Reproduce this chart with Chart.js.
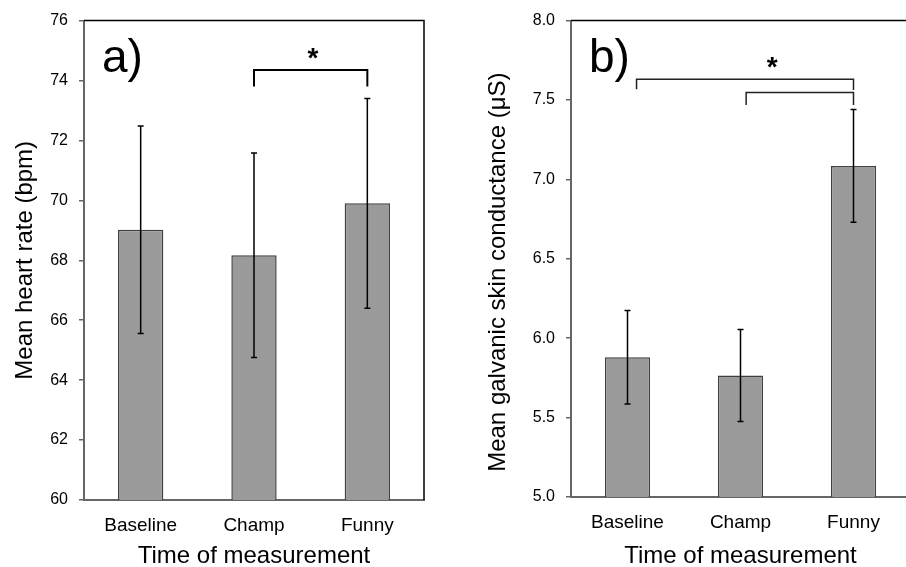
<!DOCTYPE html>
<html><head><meta charset="utf-8">
<script src="https://cdn.jsdelivr.net/npm/chart.js@4"></script>
<style>
html,body{margin:0;padding:0;width:906px;height:567px;overflow:hidden;background:#fff;}
#ca{position:absolute;left:0;top:0;}
#cb{position:absolute;left:453px;top:0;}
</style></head><body>
<canvas id="ca" width="453" height="567"></canvas>
<canvas id="cb" width="457" height="567"></canvas>
<script>
const categories = ['Baseline', 'Champ', 'Funny'];
const heartRateMean = [69.02, 68.17, 69.9];
const heartRateErr = [3.46, 3.41, 3.5];
const gscMean = [5.88, 5.765, 7.085];
const gscErr = [0.294, 0.29, 0.355];
const heartRateTicks = [60, 62, 64, 66, 68, 70, 72, 74, 76];
const gscTicks = [5.0, 5.5, 6.0, 6.5, 7.0, 7.5, 8.0];
const heartRateBrackets = [{from: 1, to: 2, y: 74.35, legFrom: 73.8, legTo: 73.8}];
const gscBrackets = [
  {from: 0.08, to: 2, y: 7.63, legFrom: 7.567, legTo: 7.5625},
  {from: 1.05, to: 2, y: 7.548, legFrom: 7.469, legTo: 7.469}
];
const heartRateStars = [{x: 1.52, y: 74.45}];
const gscStars = [{x: 1.28, y: 7.648}];

Chart.defaults.font.family = '"Liberation Sans", Arial, sans-serif';
Chart.defaults.color = '#000';

const annot = {
  id: 'annot',
  afterDatasetsDraw(chart, args, o) {
    const {ctx, chartArea: a, scales: {x, y}} = chart;
    const x0 = x.getPixelForValue(0);
    const step = x.getPixelForValue(1) - x0;
    const px = v => x0 + v * step;
    ctx.save();
    ctx.strokeStyle = '#000';
    ctx.lineWidth = 1.5;
    o.mean.forEach((m, i) => {
      const cx = x.getPixelForValue(i);
      const t = y.getPixelForValue(m + o.err[i]);
      const b = y.getPixelForValue(m - o.err[i]);
      ctx.beginPath();
      ctx.moveTo(cx, t); ctx.lineTo(cx, b);
      ctx.moveTo(cx - 3, t); ctx.lineTo(cx + 3, t);
      ctx.moveTo(cx - 3, b); ctx.lineTo(cx + 3, b);
      ctx.stroke();
    });
    ctx.lineWidth = o.bracketWidth;
    ctx.strokeStyle = o.bracketColor;
    o.brackets.forEach(br => {
      const xa = px(br.from), xb = px(br.to), yy = y.getPixelForValue(br.y);
      ctx.beginPath();
      ctx.moveTo(xa, y.getPixelForValue(br.legFrom));
      ctx.lineTo(xa, yy);
      ctx.lineTo(xb, yy);
      ctx.lineTo(xb, y.getPixelForValue(br.legTo));
      ctx.stroke();
    });
    ctx.fillStyle = '#000';
    ctx.font = 'bold 28px "Liberation Sans", Arial';
    ctx.textAlign = 'center';
    ctx.textBaseline = 'alphabetic';
    o.stars.forEach(s => ctx.fillText('*', px(s.x), y.getPixelForValue(s.y)));
    ctx.font = '46px "Liberation Sans", Arial';
    ctx.textAlign = 'left';
    ctx.fillText(o.label, a.left + 18, a.top + 51);
    ctx.strokeStyle = '#000';
    ctx.lineWidth = 1.5;
    ctx.beginPath();
    ctx.moveTo(a.left, a.top);
    ctx.lineTo(a.right, a.top);
    ctx.lineTo(a.right, a.bottom);
    ctx.stroke();
    ctx.restore();
  }
};

function makeChart(id, o) {
  return new Chart(document.getElementById(id), {
    type: 'bar',
    data: {
      labels: categories,
      datasets: [{
        data: o.mean,
        backgroundColor: '#9a9a9a',
        borderColor: '#404040',
        borderWidth: 1.5,
        barPercentage: 0.4,
        categoryPercentage: 1
      }]
    },
    options: {
      responsive: false,
      animation: false,
      devicePixelRatio: 1,
      layout: {padding: {left: 0, right: o.padRight, top: 17, bottom: 0}},
      plugins: {
        legend: {display: false},
        tooltip: {enabled: false},
        annot: {
          mean: o.mean, err: o.err, brackets: o.brackets, stars: o.stars,
          label: o.label, bracketWidth: o.bracketWidth, bracketColor: o.bracketColor
        }
      },
      scales: {
        x: {
          grid: {display: false},
          border: {display: true, color: '#666', width: 2},
          ticks: {color: '#000', font: {size: 19, lineHeight: 1}, padding: o.xTickPad},
          title: {display: true, text: 'Time of measurement', color: '#000',
                  font: {size: 24, lineHeight: 1}, padding: {top: 0, bottom: -1}},
          afterFit(s) { s.height = o.xAxisHeight; }
        },
        y: {
          min: o.ticks[0],
          max: o.ticks[o.ticks.length - 1],
          afterBuildTicks(s) { s.ticks = o.ticks.map(v => ({value: v})); },
          ticks: {color: '#000', font: {size: 16}, padding: 11, callback: o.fmt},
          grid: {drawOnChartArea: false, drawTicks: true, tickLength: 5, color: '#666', lineWidth: 1.5},
          border: {display: true, color: '#666', width: 2},
          title: {display: true, text: o.yTitle, color: '#000',
                  font: {size: 24, lineHeight: 1}, padding: {top: o.yTitlePad, bottom: 0}},
          afterFit(s) { s.width = o.yAxisWidth; }
        }
      }
    },
    plugins: [annot]
  });
}

makeChart('ca', {
  mean: heartRateMean, err: heartRateErr, ticks: heartRateTicks,
  brackets: heartRateBrackets, stars: heartRateStars, label: 'a)',
  fmt: v => String(v), yTitle: 'Mean heart rate (bpm)',
  padRight: 29, yAxisWidth: 84, xAxisHeight: 67, xTickPad: 8.5, yTitlePad: 13,
  bracketWidth: 2, bracketColor: '#000'
});
makeChart('cb', {
  mean: gscMean, err: gscErr, ticks: gscTicks,
  brackets: gscBrackets, stars: gscStars, label: 'b)',
  fmt: v => Number(v).toFixed(1), yTitle: 'Mean galvanic skin conductance (\u03bcS)\u00a0\u00a0\u00a0\u00a0',
  padRight: 0, yAxisWidth: 118, xAxisHeight: 70, xTickPad: 8, yTitlePad: 33,
  bracketWidth: 1.5, bracketColor: '#222'
});
</script>
</body></html>
